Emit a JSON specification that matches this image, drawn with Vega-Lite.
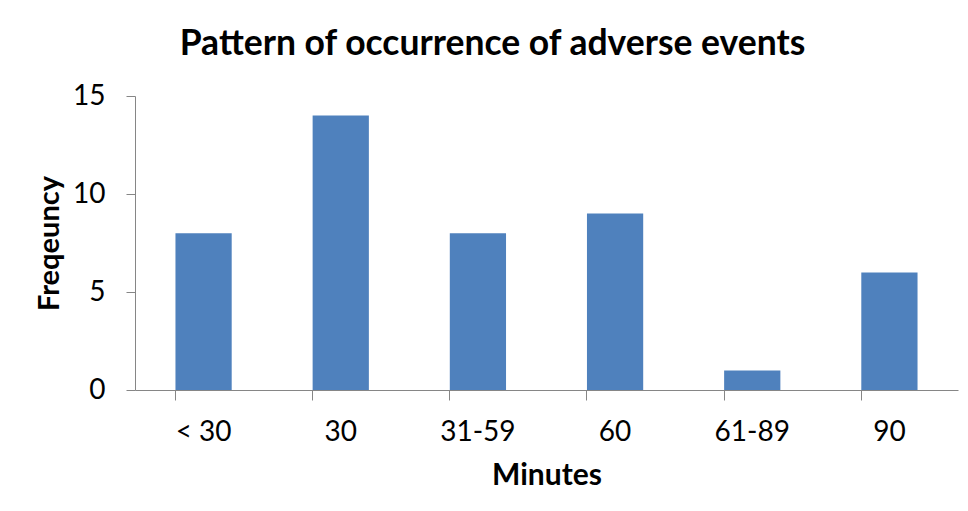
{
  "$schema": "https://vega.github.io/schema/vega-lite/v6.json",
  "width": 823,
  "height": 294,
  "autosize": {"type": "none"},
  "padding": {"left": 135, "top": 96, "right": 10, "bottom": 121},
  "background": "white",
  "title": {
    "text": "Pattern of occurrence of adverse events",
    "font": "Lato",
    "fontSize": 35.5,
    "fontWeight": "bold",
    "color": "black",
    "anchor": "middle",
    "dx": -54,
    "offset": 20
  },
  "data": {
    "values": [
      {"Minutes": "< 30", "Frequency": 8},
      {"Minutes": "30", "Frequency": 14},
      {"Minutes": "31-59", "Frequency": 8},
      {"Minutes": "60", "Frequency": 9},
      {"Minutes": "61-89", "Frequency": 1},
      {"Minutes": "90", "Frequency": 6}
    ]
  },
  "mark": {"type": "bar", "color": "#4F81BD"},
  "encoding": {
    "x": {
      "field": "Minutes",
      "type": "nominal",
      "sort": null,
      "scale": {"paddingInner": 0.59, "paddingOuter": 0.295},
      "axis": {
        "title": "Minutes",
        "titleFont": "Lato",
        "titleFontSize": 30,
        "titleFontWeight": "bold",
        "titleColor": "black",
        "titlePadding": 14,
        "labelAngle": 0,
        "labelFont": "Lato",
        "labelFontSize": 28,
        "labelColor": "black",
        "labelPadding": 18,
        "bandPosition": 0,
        "tickSize": 10,
        "tickColor": "#868686",
        "domainColor": "#868686",
        "grid": false
      }
    },
    "y": {
      "field": "Frequency",
      "type": "quantitative",
      "scale": {"domain": [0, 15], "nice": false},
      "axis": {
        "title": "Freqeuncy",
        "titleFont": "Lato",
        "titleFontSize": 29,
        "titleFontWeight": "bold",
        "titleColor": "black",
        "titlePadding": 8,
        "values": [0, 5, 10, 15],
        "labelFont": "Lato",
        "labelFontSize": 28,
        "labelColor": "black",
        "labelPadding": 21,
        "tickSize": 9,
        "tickColor": "#868686",
        "domainColor": "#868686",
        "grid": false
      }
    }
  },
  "config": {"view": {"stroke": null}}
}
